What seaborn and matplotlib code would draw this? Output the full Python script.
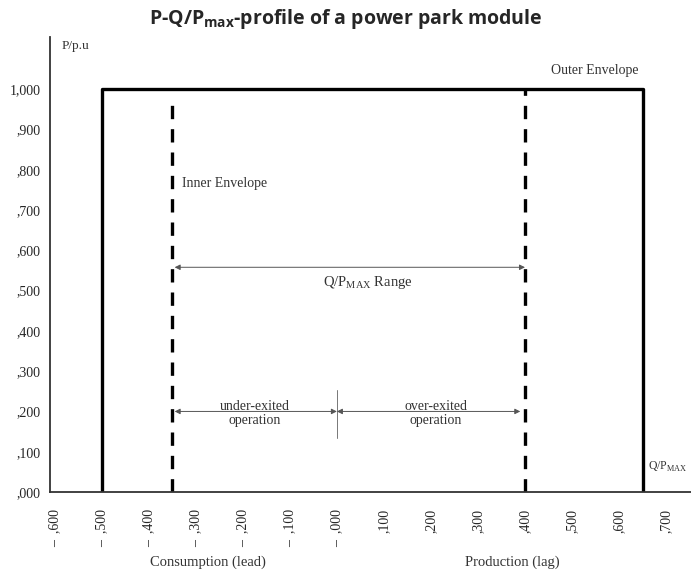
import numpy as np
import pandas as pd
import seaborn as sns
from matplotlib import pyplot as plt

sns.set_style("white")
plt.rcParams['font.family'] = ['Liberation Serif', 'DejaVu Serif']
plt.rcParams['mathtext.fontset'] = 'custom'
plt.rcParams['mathtext.rm'] = 'Liberation Serif'

# outer envelope (Q/Pmax, P/p.u)
outer_q = [-0.5, -0.5, 0.65, 0.65]
outer_p = [0.0, 1.0, 1.0, 0.0]
# inner envelope (dashed verticals)
inner_left_q = [-0.35, -0.35]
inner_left_p = [0.0, 0.98]
inner_right_q = [0.4, 0.4]
inner_right_p = [0.0, 1.0]

x_ticks = np.round(np.arange(-0.6, 0.71, 0.1), 1)
x_labels = ['–  ,600', '–  ,500', '–  ,400', '–  ,300', '–  ,200', '–  ,100', '–  ,000',
            ',100', ',200', ',300', ',400', ',500', ',600', ',700']
y_ticks = np.round(np.arange(0, 1.11, 0.1), 1)
y_labels = [',000', ',100', ',200', ',300', ',400', ',500', ',600', ',700',
            ',800', ',900', '1,000', '']

outer = pd.DataFrame({'q': outer_q, 'p': outer_p})
inner_l = pd.DataFrame({'q': inner_left_q, 'p': inner_left_p})
inner_r = pd.DataFrame({'q': inner_right_q, 'p': inner_right_p})

fig = plt.figure(figsize=(6.91, 5.72), dpi=100)
ax = fig.add_axes([0.0724, 0.1399, 0.9276, 0.7955])

sns.lineplot(x='q', y='p', data=outer, sort=False, estimator=None, errorbar=None,
             color='black', lw=2.4, ax=ax)
for d in (inner_l, inner_r):
    sns.lineplot(x='q', y='p', data=d, sort=False, estimator=None, errorbar=None,
                 color='black', lw=2.4, ax=ax)
for line in ax.lines[1:]:
    line.set_dashes((4, 3))

ax.set_xlim(-0.61, 0.753)
ax.set_ylim(0, 1.13)
ax.set_xlabel('')
ax.set_ylabel('')

for s in ['top', 'right']:
    ax.spines[s].set_visible(False)
for s in ['left', 'bottom']:
    ax.spines[s].set_color('#333333')
    ax.spines[s].set_linewidth(1.3)

ax.set_xticks(x_ticks)
ax.set_xticklabels(x_labels, rotation=90, fontsize=10)
ax.set_xticks(np.round(np.arange(-0.55, 0.75, 0.1), 2), minor=True)
ax.set_yticks(y_ticks)
ax.set_yticklabels(y_labels, fontsize=10)
ax.set_yticks(np.round(np.arange(0.05, 1.1, 0.1), 2), minor=True)
ax.tick_params(axis='x', which='major', direction='out', length=4, width=1, pad=8, color='#333333')
ax.tick_params(axis='x', which='minor', direction='out', length=2, width=1, color='#333333')
ax.tick_params(axis='y', which='major', direction='inout', length=6, width=1, pad=4, color='#333333')
ax.tick_params(axis='y', which='minor', direction='inout', length=4, width=1, color='#333333')

arrow = dict(arrowstyle='<|-|>', color='#555555', lw=0.7, mutation_scale=8,
             shrinkA=0, shrinkB=0)
ax.annotate('', xy=(0.4, 0.558), xytext=(-0.345, 0.558), arrowprops=arrow)
ax.annotate('', xy=(0.0, 0.2), xytext=(-0.345, 0.2), arrowprops=arrow)
ax.annotate('', xy=(0.39, 0.2), xytext=(0.0, 0.2), arrowprops=arrow)
ax.plot([0, 0], [0.134, 0.253], color='#777777', lw=0.7)

ax.text(0.065, 0.519, r'Q/P$_\mathregular{MAX}$ Range', ha='center', va='center', fontsize=10.5, color='#333333')
ax.text(-0.175, 0.196, 'under-exited\noperation', ha='center', va='center', fontsize=10,
        linespacing=1.1, color='#333333')
ax.text(0.21, 0.196, 'over-exited\noperation', ha='center', va='center', fontsize=10,
        linespacing=1.1, color='#333333')
ax.text(-0.33, 0.767, 'Inner Envelope', ha='left', va='center', fontsize=10, color='#333333')
ax.text(0.455, 1.047, 'Outer Envelope', ha='left', va='center', fontsize=10, color='#333333')
ax.text(-0.585, 1.107, 'P/p.u', ha='left', va='center', fontsize=9.5, color='#333333')
ax.text(0.662, 0.062, r'Q/P$_\mathregular{MAX}$', ha='left', va='center', fontsize=8.5, color='#333333')

fig.text(0.301, 0.0175, 'Consumption (lead)', ha='center', va='center', fontsize=10.5, color='#333333')
fig.text(0.742, 0.0175, 'Production (lag)', ha='center', va='center', fontsize=10.5, color='#333333')

fig.text(0.5, 0.966, r'P-Q/P$_\mathregular{max}$-profile of a power park module', ha='center',
         va='center', fontsize=14, fontweight='bold', family='Open Sans')

fig.savefig('out.png', dpi=100)
